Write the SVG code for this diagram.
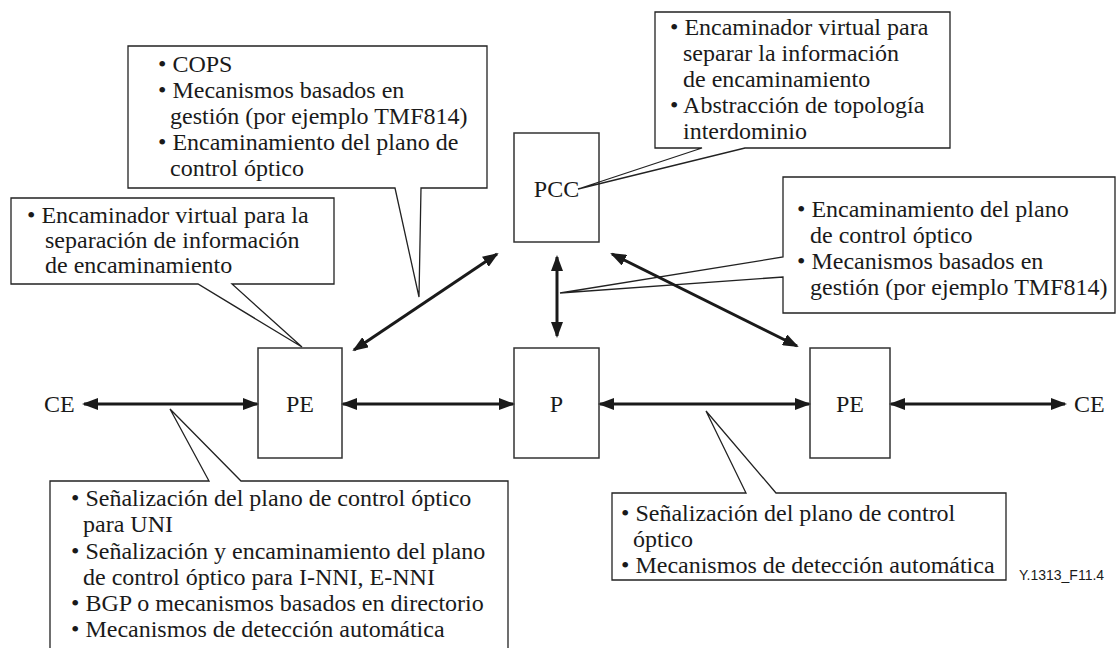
<svg xmlns="http://www.w3.org/2000/svg" width="1117" height="648" viewBox="0 0 1117 648">
  <defs>
    <marker id="head" viewBox="0 0 16 12" refX="14" refY="6" markerWidth="16" markerHeight="12" markerUnits="userSpaceOnUse" orient="auto-start-reverse">
      <path d="M0,0 L16,6 L0,12 Z" fill="#1a1a1a"/>
    </marker>
  </defs>
  <style>
    .box { fill: #ffffff; stroke: #333333; stroke-width: 1.5; }
    .callout { fill: none; stroke: #222222; stroke-width: 1.3; stroke-linejoin: miter; }
    text { font-family: "Liberation Serif", "DejaVu Serif", "Noto Serif", Tinos, serif; font-size: 24px; fill: #1a1a1a; }
    .c { text-anchor: middle; }
    .link { stroke: #1a1a1a; stroke-width: 3; fill: none; marker-start: url(#head); marker-end: url(#head); }
    text.ref { font-family: "Liberation Sans", Arial, sans-serif; font-size: 14px; }
  </style>
  <rect width="1117" height="648" fill="#ffffff"/>

  <!-- network elements -->
  <g id="pcc">
    <rect class="box" x="514" y="133" width="85" height="109"/>
    <text class="c" x="556.5" y="197">PCC</text>
  </g>
  <g id="pe-left">
    <rect class="box" x="258" y="348" width="84" height="110"/>
    <text class="c" x="300" y="412">PE</text>
  </g>
  <g id="p">
    <rect class="box" x="514" y="348" width="85" height="110"/>
    <text class="c" x="556.5" y="412">P</text>
  </g>
  <g id="pe-right">
    <rect class="box" x="810" y="348" width="80" height="110"/>
    <text class="c" x="850" y="412">PE</text>
  </g>
  <g id="ce-left">
    <text x="44" y="412">CE</text>
  </g>
  <g id="ce-right">
    <text x="1074" y="412">CE</text>
  </g>

  <!-- callouts -->
  <g id="note-cops">
    <path class="callout" d="M128,46 H487 V188 H421 L419,297 L395,188 H128 Z"/>
    <text x="158" y="72">• COPS</text>
    <text x="158" y="98">• Mecanismos basados en</text>
    <text x="170" y="124">gestión (por ejemplo TMF814)</text>
    <text x="158" y="150">• Encaminamiento del plano de</text>
    <text x="170" y="176">control óptico</text>
  </g>
  <g id="note-vr-pe">
    <path class="callout" d="M11,198 H334 V284 H232 L302,347 L198,284 H11 Z"/>
    <text x="27" y="223">• Encaminador virtual para la</text>
    <text x="45" y="248">separación de información</text>
    <text x="45" y="273">de encaminamiento</text>
  </g>
  <g id="note-vr-pcc">
    <path class="callout" d="M655,12 H950 V148 H745 L578,189 L702,148 H655 Z"/>
    <text x="670" y="35">• Encaminador virtual para</text>
    <text x="683" y="61">separar la información</text>
    <text x="683" y="87">de encaminamiento</text>
    <text x="670" y="113">• Abstracción de topología</text>
    <text x="683" y="139">interdominio</text>
  </g>
  <g id="note-routing">
    <path class="callout" d="M783,177 H1115 V313 H783 V277 L560,293 L783,257 Z"/>
    <text x="797" y="217">• Encaminamiento del plano</text>
    <text x="810" y="243">de control óptico</text>
    <text x="797" y="269">• Mecanismos basados en</text>
    <text x="810" y="295">gestión (por ejemplo TMF814)</text>
  </g>
  <g id="note-uni">
    <path class="callout" d="M50,481 H209 L170,409 L241,481 H508 V660 H50 Z"/>
    <text x="71" y="506">• Señalización del plano de control óptico</text>
    <text x="83" y="532">para UNI</text>
    <text x="71" y="559">• Señalización y encaminamiento del plano</text>
    <text x="83" y="585">de control óptico para I-NNI, E-NNI</text>
    <text x="71" y="611">• BGP o mecanismos basados en directorio</text>
    <text x="71" y="637">• Mecanismos de detección automática</text>
  </g>
  <g id="note-nni">
    <path class="callout" d="M612,493 H746 L706,411 L776,493 H1006 V580 H612 Z"/>
    <text x="621" y="521">• Señalización del plano de control</text>
    <text x="633" y="547">óptico</text>
    <text x="621" y="573">• Mecanismos de detección automática</text>
  </g>

  <!-- links between elements -->
  <g id="connectors">
    <line class="link" x1="84" y1="404" x2="257" y2="404"/>
    <line class="link" x1="343" y1="404" x2="513" y2="404"/>
    <line class="link" x1="600" y1="404" x2="809" y2="404"/>
    <line class="link" x1="891" y1="404" x2="1065" y2="404"/>
    <line class="link" x1="354" y1="350" x2="497" y2="254"/>
    <line class="link" x1="557" y1="257" x2="557" y2="336"/>
    <line class="link" x1="612" y1="254" x2="797" y2="346"/>
  </g>

  <text class="ref" x="1019" y="580">Y.1313_F11.4</text>
</svg>
